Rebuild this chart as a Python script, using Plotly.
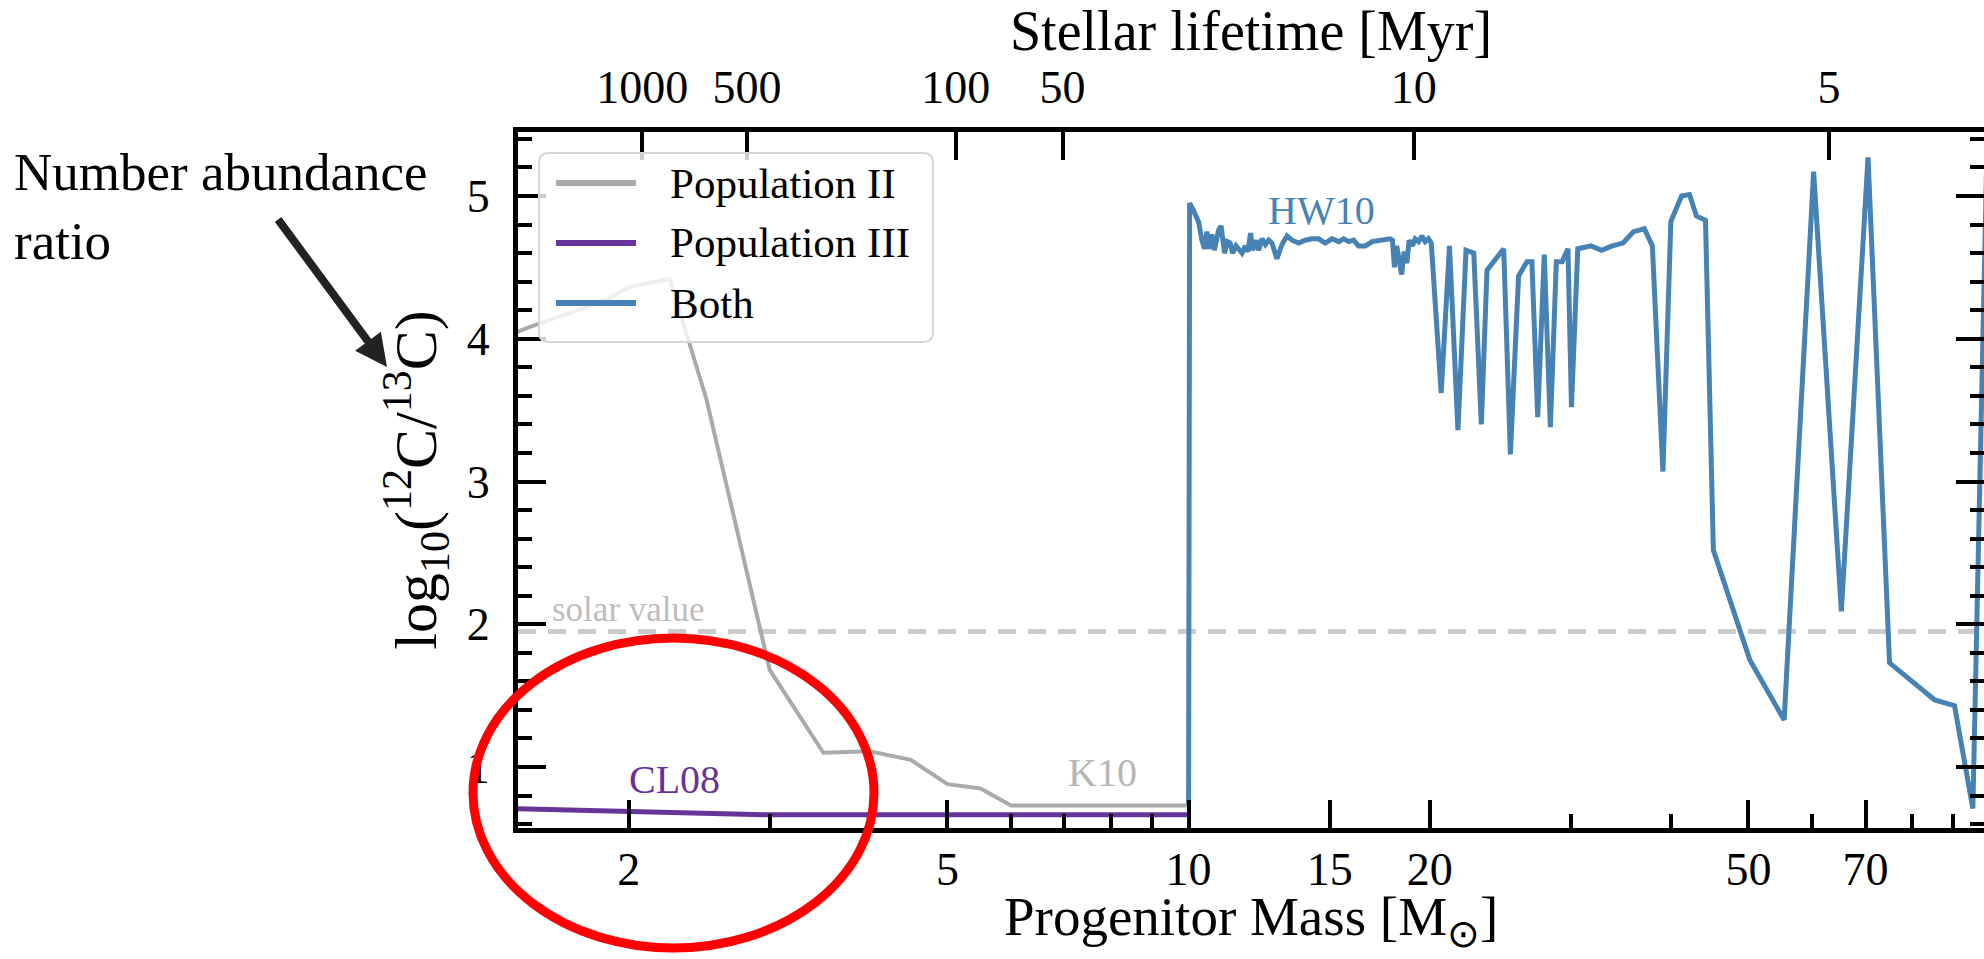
import numpy as np
import plotly.graph_objects as go

# ---------------------------------------------------------------------------
# Data: log10(12C/13C) of the ejecta versus progenitor mass
# ---------------------------------------------------------------------------
# Population II AGB yields (K10)
pop2_mass = [1.25, 1.5, 1.75, 1.9, 2.0, 2.25, 2.5, 3.0, 3.5, 4.0, 4.5, 5.0, 5.5, 6.0, 10.0]
pop2_ratio = [3.90, 4.08, 4.21, 4.29, 4.36, 4.42, 3.58, 1.68, 1.10, 1.11, 1.05, 0.88, 0.85, 0.73, 0.73]

# Population III AGB yields (CL08)
pop3_mass = [1.0, 2.0, 3.0, 10.0]
pop3_ratio = [0.73, 0.685, 0.665, 0.665]

# Massive-star yields used for both populations (HW10)
both_mass = [
    10.0, 10.03, 10.14, 10.29, 10.39, 10.47, 10.54, 10.61, 10.69, 10.77,
    10.90, 10.98, 11.09, 11.18, 11.27, 11.35, 11.46, 11.57, 11.66, 11.77,
    11.86, 11.95, 12.02, 12.14, 12.23, 12.35, 12.47, 12.59, 12.71, 12.89,
    13.08, 13.27, 13.46, 13.72, 13.98, 14.25, 14.53, 14.81, 15.10, 15.40,
    15.62, 15.85, 16.07, 16.30, 16.62, 16.95, 17.28, 17.60, 17.85, 17.97,
    18.07, 18.19, 18.31, 18.45, 18.58, 18.73, 18.85, 19.03, 19.18, 19.37,
    19.56, 19.74, 19.93, 20.09, 20.67, 21.17, 21.69, 22.20, 22.70, 23.20,
    23.58, 24.15, 24.74, 25.22, 25.82, 26.45, 26.83, 27.28, 27.80, 28.29,
    28.78, 29.26, 29.76, 30.06, 30.61, 31.80, 32.78, 33.80, 34.86, 35.94,
    37.07, 37.93, 39.10, 40.00, 41.25, 42.20, 43.05, 44.19, 45.20, 50.20,
    55.40, 60.30, 65.30, 70.50, 75.00, 85.40, 90.40, 95.30, 100.0,
]
both_ratio = [
    0.73, 4.95, 4.90, 4.82, 4.69, 4.63, 4.75, 4.63, 4.73, 4.62,
    4.76, 4.79, 4.60, 4.68, 4.67, 4.60, 4.65, 4.62, 4.60, 4.65,
    4.61, 4.74, 4.62, 4.69, 4.62, 4.70, 4.66, 4.69, 4.67, 4.56,
    4.66, 4.72, 4.69, 4.67, 4.69, 4.70, 4.70, 4.67, 4.70, 4.68,
    4.70, 4.68, 4.69, 4.65, 4.65, 4.68, 4.69, 4.70, 4.70, 4.69,
    4.50, 4.65, 4.55, 4.45, 4.61, 4.53, 4.69, 4.65, 4.70, 4.68,
    4.72, 4.68, 4.70, 4.67, 3.62, 4.65, 3.36, 4.62, 4.60, 3.40,
    4.48, 4.55, 4.63, 3.19, 4.44, 4.54, 4.54, 3.45, 4.59, 3.38,
    4.54, 4.54, 4.63, 3.52, 4.63, 4.65, 4.62, 4.65, 4.67, 4.75,
    4.77, 4.65, 3.07, 4.82, 5.00, 5.01, 4.86, 4.83, 2.52, 1.75,
    1.33, 5.17, 2.09, 5.27, 1.73, 1.47, 1.43, 0.71, 6.20,
]

series_names = ["Population II", "Population III", "Both"]
series_colors = ["#aaaaaa", "#663399", "#4682b4"]
series_widths = [4, 5, 5]

# Solar 12C/13C number ratio
solar_ratio = 89.0
solar_log = float(np.log10(solar_ratio))

# Axis ticks
mass_ticks = [2, 5, 10, 15, 20, 50, 70]
mass_minor_ticks = [3, 4, 6, 7, 8, 9, 30, 40, 60, 80, 90]
lifetime_labels = ["1000", "500", "100", "50", "10", "5"]
lifetime_tick_mass = [2.08, 2.81, 5.12, 6.96, 19.1, 63.0]
ratio_ticks = [1, 2, 3, 4, 5]

mass_range = [1.455, 98.4]
ratio_range = [0.573, 5.448]

# ---------------------------------------------------------------------------
# Page geometry (pixels) and helpers for decorations placed in paper space
# ---------------------------------------------------------------------------
W, H = 1984, 959
PL, PT, PB = 518, 132, 828          # plot-area left, top, bottom
PR = W


def paper_x(px):
    return (px - PL) / (PR - PL)


def paper_y(py):
    return (PB - py) / (PB - PT)


SERIF = "Liberation Serif, Times New Roman, serif"

fig = go.Figure()

for name, mass, ratio, color, width in zip(
    series_names,
    [pop2_mass, pop3_mass, both_mass],
    [pop2_ratio, pop3_ratio, both_ratio],
    series_colors,
    series_widths,
):
    fig.add_trace(
        go.Scatter(
            x=mass,
            y=ratio,
            mode="lines",
            name=name,
            line=dict(color=color, width=width),
            showlegend=False,
            hoverinfo="skip",
        )
    )

# Empty trace so the lifetime (top) and mirrored (right) axes get a subplot
fig.add_trace(
    go.Scatter(
        x=[mass_range[0]],
        y=[None],
        xaxis="x2",
        yaxis="y2",
        mode="lines",
        showlegend=False,
        hoverinfo="skip",
    )
)

log_range = [float(np.log10(mass_range[0])), float(np.log10(mass_range[1]))]

axis_common = dict(
    ticks="inside",
    ticklen=28,
    tickwidth=4,
    tickcolor="black",
    showgrid=False,
    zeroline=False,
    linecolor="black",
    linewidth=5,
    tickfont=dict(family=SERIF, size=46, color="black"),
)
minor_common = dict(
    ticks="inside",
    ticklen=14,
    tickwidth=4,
    tickcolor="black",
    showgrid=False,
)

fig.update_layout(
    width=W,
    height=H,
    margin=dict(l=PL, r=W - PR, t=PT, b=H - PB, pad=0),
    paper_bgcolor="white",
    plot_bgcolor="white",
    font=dict(family=SERIF, color="black"),
    showlegend=False,
    xaxis=dict(
        type="log",
        range=log_range,
        tickmode="array",
        tickvals=mass_ticks,
        ticktext=[str(v) for v in mass_ticks],
        showline=True,
        ticklabelstandoff=-3,
        minor=dict(tickmode="array", tickvals=mass_minor_ticks, **minor_common),
        **axis_common,
    ),
    xaxis2=dict(
        type="log",
        range=log_range,
        overlaying="x",
        side="top",
        anchor="y",
        tickmode="array",
        tickvals=lifetime_tick_mass,
        ticktext=lifetime_labels,
        showline=True,
        ticklabelstandoff=6,
        title=dict(
            text="Stellar lifetime [Myr]",
            font=dict(family=SERIF, size=56, color="black"),
            standoff=22,
        ),
        **axis_common,
    ),
    yaxis=dict(
        range=ratio_range,
        tickmode="array",
        tickvals=ratio_ticks,
        showline=True,
        ticklabelstandoff=14,
        minor=dict(dtick=0.2, tick0=0, **minor_common),
        title=dict(
            text="log<sub>10</sub>(<sup>12</sup>C/<sup>13</sup>C)",
            font=dict(family=SERIF, size=60, color="black"),
            standoff=12,
        ),
        **axis_common,
    ),
    yaxis2=dict(
        range=ratio_range,
        overlaying="y",
        side="right",
        anchor="x",
        tickmode="array",
        tickvals=ratio_ticks,
        showticklabels=False,
        showline=False,
        minor=dict(dtick=0.2, tick0=0, **minor_common),
        ticks="inside",
        ticklen=28,
        tickwidth=4,
        tickcolor="black",
        showgrid=False,
        zeroline=False,
    ),
)

# Bottom axis title, placed below the mass tick labels
fig.add_annotation(
    x=0.5, y=paper_y(920), xref="paper", yref="paper",
    text="Progenitor Mass [M<sub>⊙</sub>]",
    showarrow=False, xanchor="center", yanchor="middle",
    font=dict(family=SERIF, size=55, color="black"),
)

# Solar reference level
fig.add_shape(
    type="line",
    xref="paper",
    x0=0,
    x1=1,
    yref="y",
    y0=solar_log,
    y1=solar_log,
    line=dict(color="#cccccc", width=5, dash="18px,12px"),
    layer="below",
)

# In-plot labels
label_font = dict(family=SERIF, size=40)
fig.add_annotation(
    x=np.log10(1.593), y=2.10, xref="x", yref="y", text="solar value",
    showarrow=False, xanchor="left", yanchor="middle",
    font=dict(family=SERIF, size=35, color="#bdbdbd"),
)
fig.add_annotation(
    x=np.log10(7.81), y=0.96, xref="x", yref="y", text="K10",
    showarrow=False, font=dict(color="#b5b5b5", **label_font),
)
fig.add_annotation(
    x=np.log10(2.28), y=0.91, xref="x", yref="y", text="CL08",
    showarrow=False, font=dict(color=series_colors[1], **label_font),
)
fig.add_annotation(
    x=np.log10(14.66), y=4.90, xref="x", yref="y", text="HW10",
    showarrow=False, font=dict(color=series_colors[2], **label_font),
)

# Legend box drawn with rounded corners
lx0, lx1 = paper_x(539), paper_x(933)
ly0, ly1 = paper_y(342), paper_y(153)
rx, ry = 10 / (PR - PL), 10 / (PB - PT)
legend_path = (
    f"M {lx0 + rx},{ly0} L {lx1 - rx},{ly0} Q {lx1},{ly0} {lx1},{ly0 + ry} "
    f"L {lx1},{ly1 - ry} Q {lx1},{ly1} {lx1 - rx},{ly1} "
    f"L {lx0 + rx},{ly1} Q {lx0},{ly1} {lx0},{ly1 - ry} "
    f"L {lx0},{ly0 + ry} Q {lx0},{ly0} {lx0 + rx},{ly0} Z"
)
fig.add_shape(
    type="path",
    xref="paper",
    yref="paper",
    path=legend_path,
    fillcolor="rgba(255,255,255,0.8)",
    line=dict(color="#d6d6d6", width=2),
    layer="above",
)
for i, (name, color) in enumerate(zip(series_names, series_colors)):
    row_y = paper_y(183 + 60 * i)
    fig.add_shape(
        type="line",
        xref="paper",
        yref="paper",
        x0=paper_x(556),
        x1=paper_x(636),
        y0=row_y,
        y1=row_y,
        line=dict(color=color, width=6),
        layer="above",
    )
    fig.add_annotation(
        x=paper_x(668), y=row_y, xref="paper", yref="paper", text=name,
        showarrow=False, xanchor="left", yanchor="middle",
        font=dict(family=SERIF, size=43, color="black"),
    )

# Callout: text, arrow and highlight ellipse
fig.add_annotation(
    x=paper_x(12), y=paper_y(206), xref="paper", yref="paper",
    text="Number abundance<br>ratio", align="left",
    showarrow=False, xanchor="left", yanchor="middle",
    font=dict(family=SERIF, size=53, color="black"),
)
fig.add_annotation(
    x=paper_x(387), y=paper_y(367), xref="paper", yref="paper",
    text="", showarrow=True, ax=-110, ay=-149,
    arrowhead=2, arrowsize=0.8, arrowwidth=8, arrowcolor="#222222",
    standoff=0,
)
fig.add_shape(
    type="circle",
    xref="paper",
    yref="paper",
    x0=paper_x(473),
    x1=paper_x(874),
    y0=paper_y(948),
    y1=paper_y(638),
    line=dict(color="#ff0000", width=9),
    layer="above",
)

fig.write_html("out.html")
